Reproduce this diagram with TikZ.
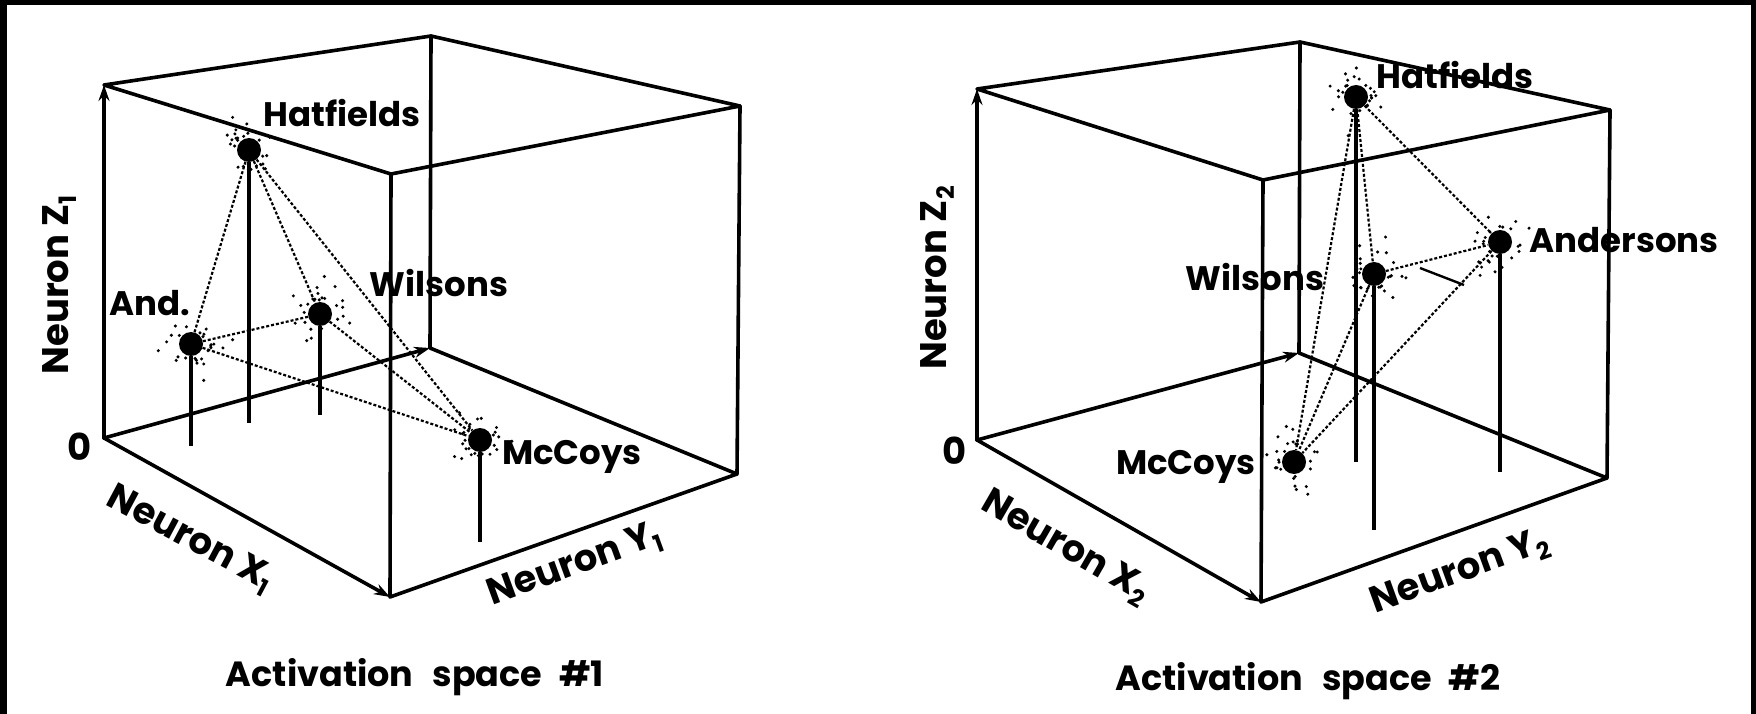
\documentclass[tikz,border=0pt]{standalone}
\usepackage{fontspec}
\setmainfont{Poppins}
\usetikzlibrary{arrows.meta}
\newcommand\mysub[1]{\raisebox{-8pt}{\fontsize{24}{24}\selectfont #1}}
\begin{document}
\begin{tikzpicture}[x=1pt,y=-1pt,
  edge/.style={line width=3.6pt, line cap=round, line join=round},
  axis/.style={edge, -{Stealth[length=16pt,width=11pt]}},
  conn/.style={line width=2.2pt, dash pattern=on 3pt off 2pt},
  drop/.style={line width=3.3pt},
  dot/.style={circle, fill, inner sep=0pt, minimum size=24pt},
  lab/.style={font=\bfseries\fontsize{34}{34}\selectfont, inner sep=0pt},
  axlab/.style={font=\bfseries\fontsize{37}{37}\selectfont, inner sep=0pt},
  ttl/.style={font=\bfseries\fontsize{35}{35}\selectfont, inner sep=0pt},
  tick/.style={line width=2.4pt}]
\useasboundingbox (0,0) rectangle (1756,714);
\fill[black] (0,0) rectangle (1756,714);
\fill[white] (7,5) rectangle (1751,714);

% ---------- left cube ----------
\coordinate (LA) at (104,438);
\coordinate (LB) at (104,85);
\coordinate (LC) at (430,348);
\coordinate (LD) at (431,36);
\coordinate (LE) at (390,597);
\coordinate (LF) at (391,174);
\coordinate (LG) at (737,474);
\coordinate (LH) at (740,106);
\draw[edge] (LB) -- (LD) -- (LH) -- (LF) -- cycle;
\draw[edge] (LD) -- (LC) -- (LG) -- (LH);
\draw[edge] (LF) -- (LE) -- (LG);
\draw[axis] (LA) -- (LB);
\draw[axis] (LA) -- (LE);
\draw[axis] (LA) -- (LC);

\node[dot] (h1) at (249,150) {};
\node[dot] (a1) at (191,344) {};
\node[dot] (w1) at (320,314) {};
\node[dot] (m1) at (480,440) {};
\coordinate (h1f) at (249,423);
\coordinate (a1f) at (191,446);
\coordinate (w1f) at (320,415);
\coordinate (m1f) at (480,542);
\draw[drop] (h1) -- (h1f);
\draw[drop] (a1) -- (a1f);
\draw[drop] (w1) -- (w1f);
\draw[drop] (m1) -- (m1f);
\draw[conn] (h1) -- (a1);
\draw[conn] (h1) -- (w1);
\draw[conn] (h1) -- (m1);
\draw[conn] (a1) -- (w1);
\draw[conn] (a1) -- (m1);
\draw[conn] (w1) -- (m1);

% ---------- right cube ----------
\coordinate (RA) at (977,440);
\coordinate (RB) at (977,89);
\coordinate (RC) at (1299,353);
\coordinate (RD) at (1300,42);
\coordinate (RE) at (1261,602);
\coordinate (RF) at (1263,180);
\coordinate (RG) at (1607,478);
\coordinate (RH) at (1610,110);
\draw[edge] (RB) -- (RD) -- (RH) -- (RF) -- cycle;
\draw[edge] (RD) -- (RC) -- (RG) -- (RH);
\draw[edge] (RF) -- (RE) -- (RG);
\draw[axis] (RA) -- (RB);
\draw[axis] (RA) -- (RE);
\draw[axis] (RA) -- (RC);

\node[dot] (h2) at (1356,97) {};
\node[dot] (an2) at (1500,242) {};
\node[dot] (w2) at (1374,274) {};
\node[dot] (m2) at (1294,462) {};
\coordinate (h2f) at (1356,462);
\coordinate (w2f) at (1374,530);
\coordinate (an2f) at (1500,472);
\draw[drop] (h2) -- (h2f);
\draw[drop] (w2) -- (w2f);
\draw[drop] (an2) -- (an2f);
\draw[conn] (h2) -- (m2);
\draw[conn] (h2) -- (w2);
\draw[conn] (h2) -- (an2);
\draw[conn] (w2) -- (an2);
\draw[conn] (w2) -- (m2);
\draw[conn] (an2) -- (m2);
\coordinate (t1) at (1420,268);
\coordinate (t2) at (1464,285);
\draw[tick] (t1) -- (t2);

% ---------- scatter ----------
\pgfmathsetseed{11}
\foreach \c in {h1,a1,w1,m1,h2,an2,w2,m2}{
  \foreach \i in {1,...,26}{
    \pgfmathsetmacro\ang{360*rnd}
    \pgfmathsetmacro\rad{14+30*rnd*rnd}
    \fill (\c) ++(\ang:\rad) circle[radius=1.7pt];
  }
}

% ---------- labels left ----------
\node[lab] (lh1) at (342,113) {Hatfields};
\node[lab] (la1) at (150,303) {And.};
\node[lab] (lw1) at (439,283) {Wilsons};
\node[lab] (lm1) at (572,457) {McCoys};
\node[axlab] (l01) at (80,447) {0};
\node[axlab, rotate=90] (lz1) at (60,285) {Neuron Z\mysub{1}};
\node[axlab, rotate=-28] (lx1) at (190,540) {Neuron X\mysub{1}};
\node[axlab, rotate=20] (ly1) at (575,566) {Neuron Y\mysub{1}};
\node[ttl] (lt1) at (415,677) {Activation\hspace{19pt}space\hspace{17pt}\#1};

% ---------- labels right ----------
\node[lab] (lh2) at (1455,75) {Hatfields};
\node[lab] (la2) at (1624,240) {Andersons};
\node[lab] (lw2) at (1255,277) {Wilsons};
\node[lab] (lm2) at (1186,467) {McCoys};
\node[axlab] (l02) at (955,451) {0};
\node[axlab, rotate=90] (lz2) at (938,278) {Neuron Z\mysub{2}};
\node[axlab, rotate=-30] (lx2) at (1065,548) {Neuron X\mysub{2}};
\node[axlab, rotate=20] (ly2) at (1460,573) {Neuron Y\mysub{2}};
\node[ttl] (lt2) at (1308,681) {Activation\hspace{19pt}space\hspace{17pt}\#2};
\end{tikzpicture}
\end{document}
